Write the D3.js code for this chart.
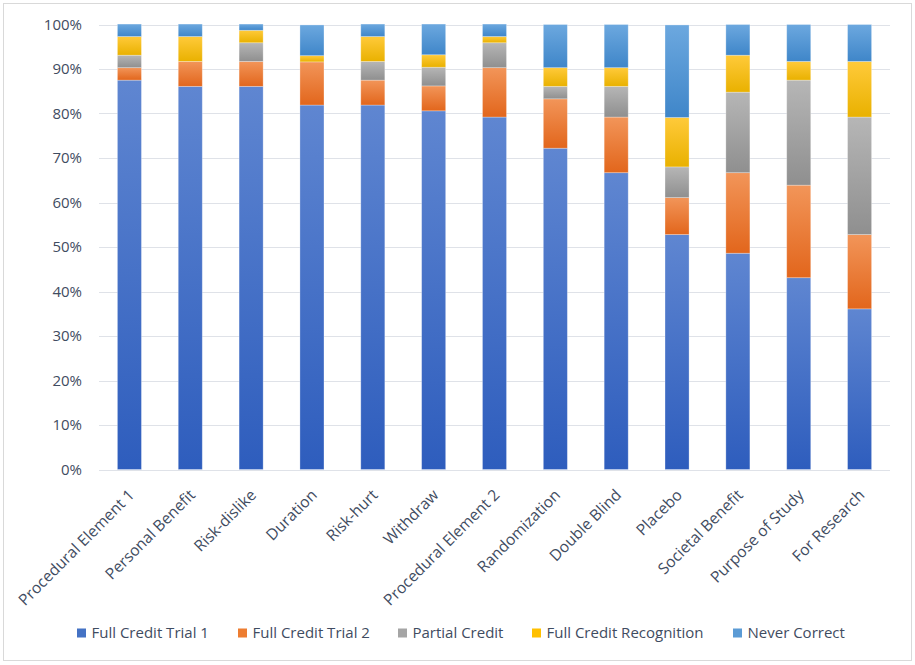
<!DOCTYPE html>
<html>
<head>
<meta charset="utf-8">
<script src="https://cdn.jsdelivr.net/npm/d3@7"></script>
<style>
  html, body { margin: 0; padding: 0; background: #fff; }
  svg { display: block; }
  text { font-family: "Open Sans", "Noto Sans", sans-serif; fill: #3f4c61; }
</style>
</head>
<body>
<svg id="chart" width="915" height="665"></svg>
<script>
// ---- Data (percent of participants) ----
const categories = ["Procedural Element 1", "Personal Benefit", "Risk-dislike", "Duration", "Risk-hurt",
  "Withdraw", "Procedural Element 2", "Randomization", "Double Blind", "Placebo",
  "Societal Benefit", "Purpose of Study", "For Research"];
const seriesNames = ["Full Credit Trial 1", "Full Credit Trial 2", "Partial Credit", "Full Credit Recognition", "Never Correct"];
const fullCreditTrial1   = [87.5, 86.1, 86.1, 81.9, 81.9, 80.6, 79.2, 72.2, 66.7, 52.8, 48.6, 43.1, 36.1];
const fullCreditTrial2   = [2.8, 5.6, 5.6, 9.7, 5.6, 5.6, 11.1, 11.1, 12.5, 8.3, 18.1, 20.8, 16.7];
const partialCredit      = [2.8, 0.0, 4.2, 0.0, 4.2, 4.2, 5.6, 2.8, 6.9, 6.9, 18.1, 23.6, 26.4];
const fullCreditRecog    = [4.2, 5.6, 2.8, 1.4, 5.6, 2.8, 1.4, 4.2, 4.2, 11.1, 8.3, 4.2, 12.5];
const neverCorrect       = [2.8, 2.8, 1.4, 6.9, 2.8, 6.9, 2.8, 9.7, 9.7, 20.8, 6.9, 8.3, 8.3];
const yTicks = [0, 10, 20, 30, 40, 50, 60, 70, 80, 90, 100];

const seriesValues = [fullCreditTrial1, fullCreditTrial2, partialCredit, fullCreditRecog, neverCorrect];
const colors = [
  { base: "#4472c4", top: "#5f86d1", bottom: "#2e5dbd" },
  { base: "#ed7d31", top: "#f29559", bottom: "#e2661c" },
  { base: "#a5a5a5", top: "#b6b6b6", bottom: "#8f8f8f" },
  { base: "#ffc000", top: "#ffca3a", bottom: "#e9b100" },
  { base: "#5b9bd5", top: "#6ca8df", bottom: "#3f86c9" }
];

const svg = d3.select("#chart");

// frame
svg.append("rect").attr("x", 3.5).attr("y", 3.5).attr("width", 908).attr("height", 657)
  .attr("fill", "#fff").attr("stroke", "#d9d9d9").attr("stroke-width", 1);

const plot = { left: 99, right: 890, top: 24.5, bottom: 469.5 };

const x = d3.scaleBand().domain(categories).range([plot.left, plot.right]).paddingInner(0.605).paddingOuter(0.3025);
const y = d3.scaleLinear().domain([0, 100]).range([plot.bottom, plot.top]);

// gradients
const defs = svg.append("defs");
colors.forEach((c, i) => {
  const g = defs.append("linearGradient").attr("id", "grad" + i)
    .attr("x1", 0).attr("y1", 0).attr("x2", 0).attr("y2", 1);
  g.append("stop").attr("offset", "0%").attr("stop-color", c.top);
  g.append("stop").attr("offset", "100%").attr("stop-color", c.bottom);
});

// gridlines
svg.append("g").selectAll("line").data(yTicks).join("line")
  .attr("x1", plot.left).attr("x2", plot.right)
  .attr("y1", d => Math.round(y(d)) + 0.5).attr("y2", d => Math.round(y(d)) + 0.5)
  .attr("stroke", "#dfe2e8").attr("stroke-width", 1.2);

// y axis labels
const yAxis = d3.axisLeft(y).tickValues(yTicks).tickFormat(d => d + "%").tickSize(0).tickPadding(0);
const yg = svg.append("g").attr("transform", `translate(82,0)`).call(yAxis);
yg.select(".domain").remove();
yg.selectAll("text").attr("font-size", 15).style("font-family", '"Open Sans", sans-serif').attr("fill", "#3f4c61");

// stack
const table = categories.map((c, i) => {
  const row = { category: c };
  seriesNames.forEach((s, j) => row[s] = seriesValues[j][i]);
  return row;
});
const stacked = d3.stack().keys(seriesNames)(table);

const bars = svg.append("g");
stacked.forEach((layer, si) => {
  bars.append("g").selectAll("rect").data(layer.filter(d => d[1] - d[0] > 0)).join("rect")
    .attr("x", d => x(d.data.category))
    .attr("width", x.bandwidth())
    .attr("y", d => y(d[1]))
    .attr("height", d => y(d[0]) - y(d[1]))
    .attr("fill", `url(#grad${si})`)
    .attr("stroke", "rgba(255,255,255,0.35)")
    .attr("stroke-width", 0.8);
});

// x axis labels (rotated)
const xg = svg.append("g");
xg.selectAll("text").data(categories).join("text")
  .attr("transform", d => `translate(${x(d) + x.bandwidth() / 2 + 6},496) rotate(-45)`)
  .attr("text-anchor", "end")
  .attr("font-size", 15.6)
  .text(d => d);

// legend
const legendX = [77, 238, 398, 532, 733];
const lg = svg.append("g");
seriesNames.forEach((s, i) => {
  lg.append("rect").attr("x", legendX[i]).attr("y", 628.5).attr("width", 9).attr("height", 9)
    .attr("fill", colors[i].base);
  lg.append("text").attr("x", legendX[i] + 14.5).attr("y", 638).attr("font-size", 15).text(s);
});
</script>
</body>
</html>
